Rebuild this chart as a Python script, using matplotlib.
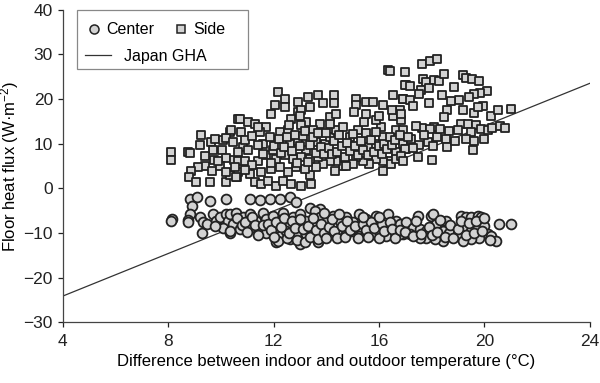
import numpy as np
import matplotlib
matplotlib.use('Agg')
import matplotlib.pyplot as plt
from matplotlib.patches import Rectangle
from matplotlib.lines import Line2D

plt.rcParams['font.family'] = ['Liberation Sans', 'DejaVu Sans']
plt.rcParams['mathtext.fontset'] = 'custom'
plt.rcParams['mathtext.rm'] = 'Liberation Sans'
plt.rcParams['mathtext.it'] = 'Liberation Sans'

# Side (squares): temperature difference (C), floor heat flux (W/m2)
side_t = [8.10, 8.10, 8.76, 8.82, 9.26, 9.20, 9.64, 9.77, 10.08, 10.34, 10.18, 9.70, 10.06,
          9.73, 10.20, 10.50, 9.39, 9.14, 8.85, 8.80, 9.05, 9.58, 10.20, 9.68, 9.96, 10.34, 10.60,
          10.67, 10.65, 10.65, 10.72, 11.03, 11.28,
          10.40, 10.78, 10.47, 10.85, 10.66, 11.03, 10.91, 10.53, 10.59, 11.10, 11.29, 11.54, 11.79,
          12.11, 12.36, 12.68, 13.05, 13.43, 13.37, 13.18, 12.87, 12.55, 12.23, 11.92, 11.54, 11.41,
          11.73, 11.98, 11.60, 11.86, 11.73, 12.23, 12.55, 12.61, 12.93, 13.24, 13.62, 13.94, 14.13,
          14.38, 14.63, 14.89, 15.20, 15.52, 15.64, 15.90, 16.15, 16.09, 15.90, 15.45, 15.52, 16.02,
          16.53, 16.78, 16.84, 16.65, 16.91, 17.03, 16.65, 16.40, 16.15, 15.90, 15.64, 15.39, 15.14,
          15.01, 14.63, 14.38, 14.13, 13.88, 13.62, 13.69, 13.37, 13.05, 12.74, 12.42, 12.11, 14.32,
          14.76, 14.13, 14.38, 14.13, 13.75, 13.50, 13.24, 12.93, 12.68, 13.05,
          12.17, 11.92, 12.04, 12.42, 12.42, 12.92, 13.05, 13.30, 13.68, 13.87, 13.37, 14.31, 14.31,
          15.14, 15.11, 15.07, 15.52, 15.77, 16.14, 16.52, 16.90, 17.03, 16.33, 16.40,
          16.15, 16.46, 16.65,
          17.62, 17.94, 18.20, 17.66, 17.79, 18.10, 18.26, 18.45, 16.99, 17.16, 17.60, 17.89, 17.53,
          18.83, 19.17, 19.30, 19.53, 19.81, 20.10, 19.83, 19.62, 19.40, 19.05, 18.73, 18.58, 18.45,
          18.10, 17.64, 17.95, 16.90, 16.93, 17.16, 16.84, 19.17, 19.62, 19.93, 19.74, 20.25, 20.50,
          21.00, 19.11, 19.36, 19.68, 19.87, 20.12, 19.49, 18.64, 18.55, 17.22, 17.53, 17.85, 18.04,
          18.60, 19.58, 18.01, 17.47, 16.97, 16.84,
          10.9, 11.2, 11.4, 11.5, 11.2, 11.6, 11.9, 12.0, 12.2, 12.3, 12.4, 12.5, 12.7, 12.8, 12.9,
          13.0, 13.1, 13.2, 13.3, 13.4, 13.5, 13.6, 13.7, 13.8, 13.9, 14.0, 14.1, 14.2, 14.3, 14.4,
          14.5, 14.6, 14.7, 14.8, 14.9, 15.0, 15.1, 15.2, 15.3, 15.4, 15.5, 15.6, 15.7, 15.8, 15.9,
          16.0, 16.1, 16.2, 16.3, 16.4, 16.5, 16.6, 16.8, 16.9, 17.1, 17.3, 17.4, 17.7, 18.2, 18.3,
          18.9, 19.0, 19.3, 19.6, 20.0, 20.3, 20.6, 20.8, 17.0, 16.5, 17.3, 17.9, 18.4, 13.0, 12.6,
          11.4, 10.9, 10.2, 9.9, 9.4]
side_q = [8.1, 6.4, 8.1, 7.9, 12.0, 9.6, 10.3, 11.1, 10.9, 12.7, 11.3, 8.5, 8.6,
          6.4, 6.8, 6.4, 5.1, 4.7, 4.0, 2.6, 1.5, 1.5, 1.5, 4.0, 4.9, 2.9, 2.5,
          15.6, 6.2, 3.6, 15.6, 14.8, 14.5,
          13.0, 12.6, 10.3, 9.2, 8.1, 8.5, 6.2, 4.7, 2.5, 3.2, 1.4, 1.0, 1.7,
          0.6, 1.7, 1.0, 0.6, 1.0, 2.9, 4.4, 4.7, 3.6, 4.7, 4.4, 3.6, 6.2,
          7.4, 8.5, 10.0, 11.5, 13.7, 12.6, 13.0, 10.0, 10.7, 8.5, 10.3, 10.0, 11.5,
          13.0, 13.7, 11.5, 13.0, 11.1, 9.2, 10.0, 11.5, 13.7, 15.2, 14.8, 16.7, 16.3,
          16.3, 17.5, 15.2, 13.0, 10.0, 8.9, 8.1, 6.2, 6.2, 6.6, 5.5, 6.2, 7.0,
          5.5, 5.1, 6.2, 6.2, 5.5, 4.7, 7.0, 6.6, 7.0, 6.6, 7.4, 6.6, 4.0,
          5.1, 16.0, 16.7, 14.5, 14.5, 13.0, 14.8, 17.1, 15.6, 14.1,
          21.6, 16.7, 18.6, 20.1, 18.2, 19.3, 17.5, 20.4, 20.8, 19.0, 18.2, 20.8, 19.0,
          20.1, 18.6, 17.1, 19.3, 19.3, 18.6, 20.8, 20.1, 23.1, 26.4, 26.2,
          4.0, 5.5, 6.6,
          27.8, 28.5, 28.9, 24.4, 23.8, 24.2, 24.0, 25.5, 23.1, 22.9, 22.1, 22.5, 21.2,
          22.7, 25.3, 24.8, 24.4, 24.0, 21.8, 21.4, 21.2, 20.4, 19.7, 19.6, 17.6, 16.0,
          13.7, 13.6, 13.3, 13.0, 20.1, 19.7, 16.7, 17.5, 16.9, 18.4, 18.2, 16.3, 17.5,
          17.8, 14.5, 14.5, 14.1, 13.3, 13.0, 12.6, 12.8, 11.1, 11.1, 9.6, 10.3, 9.4,
          9.2, 8.6, 6.4, 7.0, 8.9, 7.3,
          10.8, 11.8, 9.6, 12.6, 5.3, 7.6, 5.6, 9.5, 11.0, 8.0, 9.2, 11.6, 8.4, 12.0, 5.6,
          9.4, 11.7, 12.9, 6.0, 9.6, 11.6, 8.0, 12.4, 9.2, 7.8, 12.5, 9.0, 7.8, 10.6, 8.2,
          12.0, 9.4, 7.0, 10.2, 8.4, 12.2, 9.4, 7.4, 10.6, 8.6, 12.4, 7.4, 10.8, 8.2, 12.6,
          9.4, 7.8, 10.0, 8.8, 11.6, 9.6, 10.8, 12.0, 6.2, 11.6, 9.0, 14.0, 12.0, 11.4, 13.2,
          10.5, 13.0, 11.0, 10.6, 11.0, 13.5, 14.0, 13.4, 26.0, 17.5, 18.5, 19.2, 21.0, 16.2, 14.2,
          13.8, 4.2, 3.6, 6.1, 7.3]

# Center (circles)
center_t = [8.13, 8.10, 8.82, 9.08, 9.58, 10.21, 8.89, 8.82, 8.76, 8.76,
            9.20, 9.33, 9.46, 9.27, 9.71, 9.83, 9.96, 10.21, 10.28, 10.09, 10.34, 10.47, 10.59, 9.77,
            11.10, 11.48, 11.86, 12.23, 12.61, 12.87, 13.37, 13.75, 13.56,
            10.34, 10.59, 10.85, 11.10, 11.35, 11.60, 11.73, 11.98, 12.23, 12.36, 12.61, 12.74, 12.99,
            13.24, 13.50, 13.75, 14.00, 14.25, 14.51, 14.76, 15.01, 15.26, 15.52, 15.90, 16.34, 16.65,
            16.91, 17.16,
            10.34, 10.72, 11.10, 11.48, 11.73, 12.11, 12.23, 12.49, 12.61, 12.99, 12.87, 13.24, 13.50,
            13.75, 14.00, 14.25, 14.51, 14.76, 15.01, 15.26, 15.52, 15.77, 16.02, 16.27, 16.65, 16.91,
            12.17, 13.69,
            17.47, 17.98, 18.04, 18.55, 19.12, 19.30, 19.49, 19.75, 19.87, 20.57, 21.01,
            16.78, 17.03, 17.29, 17.54, 17.79, 18.17, 18.42, 18.67, 18.99, 19.24, 19.49, 19.75, 20.00,
            20.13, 20.25, 20.44, 19.81, 19.49, 19.18, 18.42, 18.11, 17.79, 17.16, 16.78, 17.54,
            10.6, 10.8, 10.9, 11.0, 11.2, 11.3, 11.4, 11.6, 11.8, 11.9, 12.0, 12.1, 12.3, 12.4, 12.5,
            12.6, 12.7, 12.8, 12.9, 13.0, 13.1, 13.2, 13.3, 13.4, 13.5, 13.6, 13.7, 13.8, 13.9, 14.0,
            14.1, 14.2, 14.3, 14.4, 14.6, 14.7, 14.8, 14.9, 15.1, 15.2, 15.4, 15.5, 15.6, 15.7, 15.8,
            16.0, 16.1, 16.2, 16.4, 16.5, 16.6, 16.8, 17.0, 17.3, 17.4, 17.6, 17.9, 18.0, 18.2, 18.3,
            18.5, 18.7, 18.8, 19.0, 19.1, 19.3, 19.4, 19.6, 19.7, 19.9, 20.0, 20.2, 16.0, 15.4, 14.5,
            13.9]
center_q = [-6.9, -7.3, -2.4, -2.0, -2.8, -2.4, -3.9, -5.8, -7.1, -7.6,
            -6.5, -7.6, -8.0, -9.9, -5.8, -7.3, -6.5, -5.8, -7.3, -8.8, -9.9, -8.0, -5.8, -8.4,
            -2.4, -2.6, -2.4, -2.4, -2.0, -3.1, -4.3, -4.6, -5.0,
            -5.8, -5.4, -6.5, -5.8, -7.3, -5.4, -6.9, -6.1, -7.3, -5.4, -8.0, -6.5, -5.8,
            -7.3, -8.0, -6.5, -7.6, -6.1, -7.3, -6.5, -7.6, -5.8, -6.9, -6.1, -5.8, -7.3,
            -8.4, -8.8,
            -9.5, -9.1, -8.8, -9.5, -9.9, -12.1, -10.6, -9.5, -11.4, -12.5, -10.3, -10.3, -9.5,
            -10.6, -9.5, -10.3, -9.1, -10.3, -9.5, -10.6, -9.9, -10.3, -9.5, -10.6, -10.3, -10.3,
            -11.8, -12.1,
            -6.1, -6.1, -5.8, -7.3, -6.1, -6.5, -6.5, -6.1, -6.4, -7.9, -7.9,
            -8.0, -7.6, -8.8, -9.1, -9.5, -8.0, -9.5, -9.9, -10.3, -8.4, -9.5, -8.8, -8.4,
            -10.3, -10.6, -11.8, -11.0, -11.4, -11.8, -11.8, -11.4, -11.0, -10.3, -10.3, -11.0,
            -6.7, -8.1, -7.5, -9.8, -6.4, -8.3, -10.4, -8.2, -7.9, -9.2, -10.8, -7.6, -8.6, -6.6, -11.2,
            -9.9, -7.2, -8.9, -11.6, -6.8, -9.0, -11.9, -8.4, -10.8, -6.6, -9.2, -11.4, -8.0, -10.0, -11.0,
            -8.6, -6.9, -9.6, -11.0, -8.4, -10.8, -7.2, -9.2, -8.4, -11.0, -8.0, -9.4, -10.9, -7.6, -8.8,
            -11.0, -8.0, -9.6, -7.6, -9.0, -11.0, -9.2, -9.8, -10.6, -7.4, -10.2, -8.6, -10.4, -9.8, -7.0,
            -10.8, -8.2, -11.2, -9.0, -7.4, -10.4, -7.8, -10.0, -7.4, -9.6, -6.6, -11.6, -6.4, -6.3, -5.8,
            -5.4]

# Japan GHA reference line
gha_t = [4, 24]
gha_q = [-24.1, 23.5]

fig = plt.figure(figsize=(6, 3.83), dpi=100)
ax = fig.add_axes([0.1045, 0.158, 0.8785, 0.817])

edge = '#222222'
face = '#d3d3d3'
ax.scatter(center_t, center_q, s=50, marker='o', facecolor=face, edgecolor=edge,
           linewidth=1.3, zorder=3)
ax.scatter(side_t, side_q, s=40, marker='s', facecolor=face, edgecolor=edge,
           linewidth=1.3, zorder=3)
ax.plot(gha_t, gha_q, color='#333333', linewidth=0.9, zorder=2)

ax.set_xlim(4, 24)
ax.set_ylim(-30, 40)
ax.set_xticks([4, 8, 12, 16, 20, 24])
ax.set_yticks(np.arange(-30, 41, 10))
ax.tick_params(direction='out', length=3.5, width=0.9, labelsize=12.5, colors='#222222')
ax.tick_params(axis='x', pad=5)
for s in ['top', 'right']:
    ax.spines[s].set_visible(False)
for s in ['left', 'bottom']:
    ax.spines[s].set_color('#444444')
    ax.spines[s].set_linewidth(0.9)

ax.set_xlabel('Difference between indoor and outdoor temperature (°C)', fontsize=12)
ax.xaxis.set_label_coords(0.5, -0.1)
ax.set_ylabel('Floor heat flux (W·m$^{\\mathregular{-2}}$)', fontsize=12, va='center')
ax.yaxis.set_label_coords(-0.1, 0.5)

# legend: box with two rows drawn as two frameless legends
h_c = Line2D([], [], marker='o', linestyle='none', markersize=6.5, markerfacecolor=face,
             markeredgecolor=edge, markeredgewidth=1.1)
h_s = Line2D([], [], marker='s', linestyle='none', markersize=5.8, markerfacecolor=face,
             markeredgecolor=edge, markeredgewidth=1.1)
h_l = Line2D([], [], color='#333333', linewidth=0.9)
leg1 = ax.legend([h_c, h_s], ['Center', 'Side'], ncol=2, loc='upper left',
                 bbox_to_anchor=(0.026, 0.995), frameon=False, fontsize=11.5,
                 handlelength=0.8, handletextpad=0.35, columnspacing=1.3, borderpad=0.2)
ax.add_artist(leg1)
ax.legend([h_l], ['Japan GHA'], loc='upper left', bbox_to_anchor=(0.022, 0.91),
          frameon=False, fontsize=11.5, handlelength=1.6, handletextpad=0.8, borderpad=0.2)
ax.add_patch(Rectangle((0.027, 0.81), 0.324, 0.19, transform=ax.transAxes, fill=False,
                       edgecolor='#888888', linewidth=0.9, clip_on=False))

fig.savefig('out.png', dpi=100)
